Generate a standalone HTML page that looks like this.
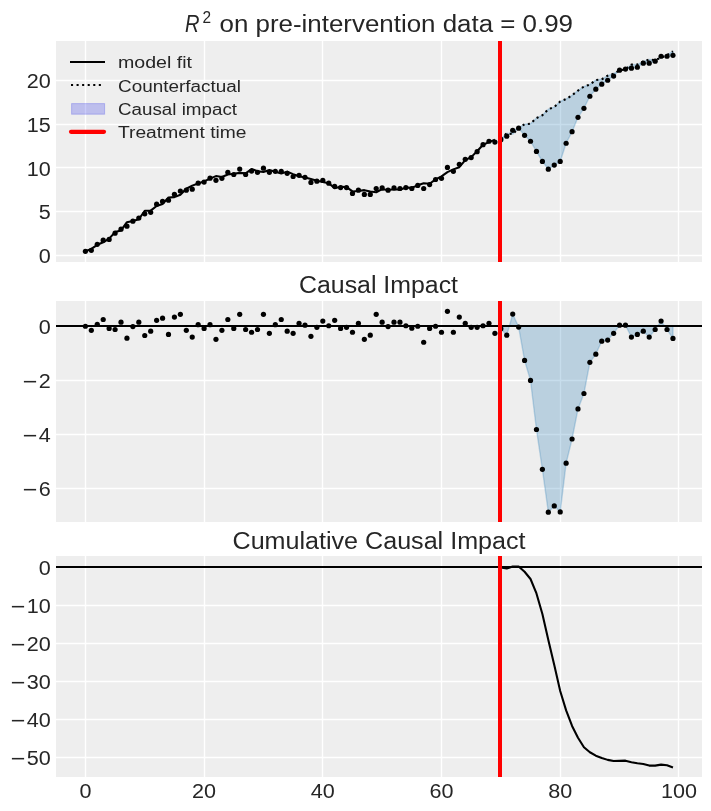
<!DOCTYPE html><html><head><meta charset="utf-8"><style>html,body{margin:0;padding:0;background:#fff;overflow:hidden}svg{display:block;will-change:transform}text{font-family:"Liberation Sans",sans-serif;fill:#262626}</style></head><body>
<svg width="711" height="811" viewBox="0 0 711 811">
<rect width="711" height="811" fill="#fff"/>
<defs>
<clipPath id="c0"><rect x="56" y="41" width="646" height="221"/></clipPath>
<clipPath id="c1"><rect x="56" y="301" width="646" height="221"/></clipPath>
<clipPath id="c2"><rect x="56" y="556" width="646" height="221"/></clipPath>
</defs>
<rect x="56" y="41" width="646" height="221" fill="#eeeeee"/>
<path d="M85.5 41V262M204.5 41V262M322.5 41V262M441.5 41V262M560.5 41V262M678.5 41V262M56 255.5H702M56 211.5H702M56 167.5H702M56 124.5H702M56 80.5H702" stroke="#fff" stroke-width="1.4" fill="none"/>
<g clip-path="url(#c0)">
<polygon points="500.85,138.79 506.78,133.2 512.72,134.16 518.65,127.87 524.59,124.2 530.52,123.68 536.46,118.09 542.39,115.2 548.33,109.18 554.26,107.08 560.2,101.49 566.13,99.04 572.07,95.29 578,90.57 583.94,86.55 589.88,84.54 595.81,80.09 601.74,79.3 607.68,75.72 613.61,73.71 619.55,70.39 625.48,69.34 631.42,64.63 637.35,64.54 643.29,61.48 649.22,59.56 655.16,60.09 661.09,57.81 667.03,55.11 672.96,51.26 672.96,55.28 667.03,56.24 661.09,56.24 655.16,61.22 649.22,63.14 643.29,63.14 637.35,67.25 631.42,68.21 625.48,69.08 619.55,70.13 613.61,76.07 607.68,80.26 601.74,84.19 595.81,89.17 589.88,96.25 583.94,108.3 578,117.3 572.07,131.71 566.13,143.24 560.2,161.41 554.26,165.08 548.33,169.19 542.39,161.41 536.46,151.45 530.52,141.23 524.59,135.29 518.65,128.22 512.72,130.31 506.78,136.17 500.85,139.66" fill="#1f77b4" fill-opacity="0.25" stroke="#1f77b4" stroke-opacity="0.25" stroke-width="1.4" stroke-linejoin="round"/>
<polyline points="85.4,251.21 91.34,248.94 97.27,244.83 103.21,242.3 109.14,238.63 115.08,232.08 121.01,230.42 126.94,222.21 132.88,220.98 138.81,219.24 144.75,210.76 150.69,210.68 156.62,206.05 162.56,203.95 168.49,197.49 174.43,197.14 180.36,194.78 186.3,188.75 192.23,185.61 198.16,183.6 204.1,181.33 210.03,178.62 215.97,176.09 221.91,176.96 227.84,174.43 233.78,173.73 239.71,172.85 245.64,173.38 251.58,169.1 257.51,171.19 263.45,171.98 269.38,169.97 275.32,171.81 281.25,173.47 287.19,171.63 293.12,174.16 299.06,176.17 305,177.57 310.93,179.06 316.87,180.72 322.8,181.94 328.74,183.25 334.67,188.14 340.61,186.74 346.54,187.09 352.48,191.46 358.41,191.02 364.35,190.15 370.28,191.46 376.22,192.25 382.15,189.19 388.09,189.97 394.02,189.19 399.96,189.71 405.89,187.62 411.82,187.79 417.76,185.35 423.69,183.25 429.63,183.77 435.56,179.41 441.5,176.35 447.43,172.16 453.37,169.36 459.3,167.18 465.24,160.19 471.17,157.13 477.11,151.19 483.04,144.73 488.98,142.11 494.91,139.75" fill="none" stroke="#000" stroke-width="2.08" stroke-linejoin="round" stroke-linecap="butt"/>
<polyline points="500.85,138.79 506.78,133.2 512.72,134.16 518.65,127.87 524.59,124.2 530.52,123.68 536.46,118.09 542.39,115.2 548.33,109.18 554.26,107.08 560.2,101.49 566.13,99.04 572.07,95.29 578,90.57 583.94,86.55 589.88,84.54 595.81,80.09 601.74,79.3 607.68,75.72 613.61,73.71 619.55,70.39 625.48,69.34 631.42,64.63 637.35,64.54 643.29,61.48 649.22,59.56 655.16,60.09 661.09,57.81 667.03,55.11 672.96,51.26" fill="none" stroke="#000" stroke-width="2.08" stroke-dasharray="2.08 3.43" stroke-linejoin="round"/>
<g fill="#000"><circle cx="85.4" cy="251.29" r="2.6"/><circle cx="91.34" cy="250.33" r="2.6"/><circle cx="97.27" cy="244.31" r="2.6"/><circle cx="103.21" cy="240.2" r="2.6"/><circle cx="109.14" cy="239.41" r="2.6"/><circle cx="115.08" cy="233.21" r="2.6"/><circle cx="121.01" cy="229.19" r="2.6"/><circle cx="126.94" cy="226.14" r="2.6"/><circle cx="132.88" cy="221.16" r="2.6"/><circle cx="138.81" cy="218.01" r="2.6"/><circle cx="144.75" cy="213.82" r="2.6"/><circle cx="150.69" cy="212.34" r="2.6"/><circle cx="156.62" cy="204.21" r="2.6"/><circle cx="162.56" cy="201.42" r="2.6"/><circle cx="168.49" cy="200.19" r="2.6"/><circle cx="174.43" cy="194.25" r="2.6"/><circle cx="180.36" cy="191.02" r="2.6"/><circle cx="186.3" cy="190.15" r="2.6"/><circle cx="192.23" cy="189.19" r="2.6"/><circle cx="198.16" cy="183.16" r="2.6"/><circle cx="204.1" cy="182.11" r="2.6"/><circle cx="210.03" cy="178.18" r="2.6"/><circle cx="215.97" cy="180.37" r="2.6"/><circle cx="221.91" cy="178.36" r="2.6"/><circle cx="227.84" cy="172.33" r="2.6"/><circle cx="233.78" cy="174.51" r="2.6"/><circle cx="239.71" cy="169.1" r="2.6"/><circle cx="245.64" cy="174.51" r="2.6"/><circle cx="251.58" cy="171.11" r="2.6"/><circle cx="257.51" cy="172.33" r="2.6"/><circle cx="263.45" cy="168.22" r="2.6"/><circle cx="269.38" cy="172.33" r="2.6"/><circle cx="275.32" cy="171.37" r="2.6"/><circle cx="281.25" cy="171.37" r="2.6"/><circle cx="287.19" cy="173.29" r="2.6"/><circle cx="293.12" cy="176.52" r="2.6"/><circle cx="299.06" cy="175.3" r="2.6"/><circle cx="305" cy="177.31" r="2.6"/><circle cx="310.93" cy="182.38" r="2.6"/><circle cx="316.87" cy="181.15" r="2.6"/><circle cx="322.8" cy="180.37" r="2.6"/><circle cx="328.74" cy="183.16" r="2.6"/><circle cx="334.67" cy="186.31" r="2.6"/><circle cx="340.61" cy="187.53" r="2.6"/><circle cx="346.54" cy="187.53" r="2.6"/><circle cx="352.48" cy="193.47" r="2.6"/><circle cx="358.41" cy="190.15" r="2.6"/><circle cx="364.35" cy="194.43" r="2.6"/><circle cx="370.28" cy="194.43" r="2.6"/><circle cx="376.22" cy="188.49" r="2.6"/><circle cx="382.15" cy="187.97" r="2.6"/><circle cx="388.09" cy="190.15" r="2.6"/><circle cx="394.02" cy="187.97" r="2.6"/><circle cx="399.96" cy="188.49" r="2.6"/><circle cx="405.89" cy="187.53" r="2.6"/><circle cx="411.82" cy="188.49" r="2.6"/><circle cx="417.76" cy="185.43" r="2.6"/><circle cx="423.69" cy="188.49" r="2.6"/><circle cx="429.63" cy="184.56" r="2.6"/><circle cx="435.56" cy="179.49" r="2.6"/><circle cx="441.5" cy="178.36" r="2.6"/><circle cx="447.43" cy="167.44" r="2.6"/><circle cx="453.37" cy="171.37" r="2.6"/><circle cx="459.3" cy="164.29" r="2.6"/><circle cx="465.24" cy="159.31" r="2.6"/><circle cx="471.17" cy="157.57" r="2.6"/><circle cx="477.11" cy="151.63" r="2.6"/><circle cx="483.04" cy="144.64" r="2.6"/><circle cx="488.98" cy="141.23" r="2.6"/><circle cx="494.91" cy="142.11" r="2.6"/><circle cx="500.85" cy="139.66" r="2.6"/><circle cx="506.78" cy="136.17" r="2.6"/><circle cx="512.72" cy="130.31" r="2.6"/><circle cx="518.65" cy="128.22" r="2.6"/><circle cx="524.59" cy="135.29" r="2.6"/><circle cx="530.52" cy="141.23" r="2.6"/><circle cx="536.46" cy="151.45" r="2.6"/><circle cx="542.39" cy="161.41" r="2.6"/><circle cx="548.33" cy="169.19" r="2.6"/><circle cx="554.26" cy="165.08" r="2.6"/><circle cx="560.2" cy="161.41" r="2.6"/><circle cx="566.13" cy="143.24" r="2.6"/><circle cx="572.07" cy="131.71" r="2.6"/><circle cx="578" cy="117.3" r="2.6"/><circle cx="583.94" cy="108.3" r="2.6"/><circle cx="589.88" cy="96.25" r="2.6"/><circle cx="595.81" cy="89.17" r="2.6"/><circle cx="601.74" cy="84.19" r="2.6"/><circle cx="607.68" cy="80.26" r="2.6"/><circle cx="613.61" cy="76.07" r="2.6"/><circle cx="619.55" cy="70.13" r="2.6"/><circle cx="625.48" cy="69.08" r="2.6"/><circle cx="631.42" cy="68.21" r="2.6"/><circle cx="637.35" cy="67.25" r="2.6"/><circle cx="643.29" cy="63.14" r="2.6"/><circle cx="649.22" cy="63.14" r="2.6"/><circle cx="655.16" cy="61.22" r="2.6"/><circle cx="661.09" cy="56.24" r="2.6"/><circle cx="667.03" cy="56.24" r="2.6"/><circle cx="672.96" cy="55.28" r="2.6"/></g>
<rect x="498" y="41" width="4" height="221" fill="#ff0000"/>
</g>
<rect x="56" y="301" width="646" height="221" fill="#eeeeee"/>
<path d="M85.5 301V522M204.5 301V522M322.5 301V522M441.5 301V522M560.5 301V522M678.5 301V522M56 326.5H702M56 380.5H702M56 434.5H702M56 488.5H702" stroke="#fff" stroke-width="1.4" fill="none"/>
<g clip-path="url(#c1)">
<polygon points="500.85,326 506.78,326 512.72,326 518.65,326 524.59,326 530.52,326 536.46,326 542.39,326 548.33,326 554.26,326 560.2,326 566.13,326 572.07,326 578,326 583.94,326 589.88,326 595.81,326 601.74,326 607.68,326 613.61,326 619.55,326 625.48,326 631.42,326 637.35,326 643.29,326 649.22,326 655.16,326 661.09,326 667.03,326 672.96,326 672.96,338.47 667.03,329.52 661.09,321.12 655.16,329.52 649.22,337.11 643.29,331.15 637.35,334.4 631.42,337.11 625.48,325.19 619.55,325.19 613.61,333.32 607.68,340.09 601.74,341.18 595.81,354.18 589.88,362.31 583.94,393.48 578,408.93 572.07,439.01 566.13,463.13 560.2,511.91 554.26,505.94 548.33,512.18 542.39,469.36 536.46,429.52 530.52,380.47 524.59,360.42 518.65,327.08 512.72,314.08 506.78,335.21 500.85,328.71" fill="#1f77b4" fill-opacity="0.25" stroke="#1f77b4" stroke-opacity="0.25" stroke-width="1.4" stroke-linejoin="round"/>
<g fill="#000"><circle cx="85.4" cy="326.27" r="2.6"/><circle cx="91.34" cy="330.34" r="2.6"/><circle cx="97.27" cy="324.37" r="2.6"/><circle cx="103.21" cy="319.5" r="2.6"/><circle cx="109.14" cy="328.44" r="2.6"/><circle cx="115.08" cy="329.52" r="2.6"/><circle cx="121.01" cy="322.21" r="2.6"/><circle cx="126.94" cy="338.19" r="2.6"/><circle cx="132.88" cy="326.54" r="2.6"/><circle cx="138.81" cy="322.21" r="2.6"/><circle cx="144.75" cy="335.49" r="2.6"/><circle cx="150.69" cy="331.15" r="2.6"/><circle cx="156.62" cy="320.31" r="2.6"/><circle cx="162.56" cy="318.14" r="2.6"/><circle cx="168.49" cy="334.4" r="2.6"/><circle cx="174.43" cy="317.06" r="2.6"/><circle cx="180.36" cy="314.35" r="2.6"/><circle cx="186.3" cy="330.34" r="2.6"/><circle cx="192.23" cy="337.11" r="2.6"/><circle cx="198.16" cy="324.64" r="2.6"/><circle cx="204.1" cy="328.44" r="2.6"/><circle cx="210.03" cy="324.64" r="2.6"/><circle cx="215.97" cy="339.28" r="2.6"/><circle cx="221.91" cy="330.34" r="2.6"/><circle cx="227.84" cy="319.5" r="2.6"/><circle cx="233.78" cy="328.44" r="2.6"/><circle cx="239.71" cy="314.35" r="2.6"/><circle cx="245.64" cy="329.52" r="2.6"/><circle cx="251.58" cy="332.23" r="2.6"/><circle cx="257.51" cy="329.52" r="2.6"/><circle cx="263.45" cy="314.35" r="2.6"/><circle cx="269.38" cy="333.32" r="2.6"/><circle cx="275.32" cy="324.64" r="2.6"/><circle cx="281.25" cy="319.5" r="2.6"/><circle cx="287.19" cy="331.15" r="2.6"/><circle cx="293.12" cy="333.32" r="2.6"/><circle cx="299.06" cy="323.29" r="2.6"/><circle cx="305" cy="325.19" r="2.6"/><circle cx="310.93" cy="336.3" r="2.6"/><circle cx="316.87" cy="327.36" r="2.6"/><circle cx="322.8" cy="321.12" r="2.6"/><circle cx="328.74" cy="325.73" r="2.6"/><circle cx="334.67" cy="320.31" r="2.6"/><circle cx="340.61" cy="328.44" r="2.6"/><circle cx="346.54" cy="327.36" r="2.6"/><circle cx="352.48" cy="332.23" r="2.6"/><circle cx="358.41" cy="323.29" r="2.6"/><circle cx="364.35" cy="339.28" r="2.6"/><circle cx="370.28" cy="335.21" r="2.6"/><circle cx="376.22" cy="314.35" r="2.6"/><circle cx="382.15" cy="322.21" r="2.6"/><circle cx="388.09" cy="326.54" r="2.6"/><circle cx="394.02" cy="322.21" r="2.6"/><circle cx="399.96" cy="322.21" r="2.6"/><circle cx="405.89" cy="325.73" r="2.6"/><circle cx="411.82" cy="328.17" r="2.6"/><circle cx="417.76" cy="326.27" r="2.6"/><circle cx="423.69" cy="342.26" r="2.6"/><circle cx="429.63" cy="328.44" r="2.6"/><circle cx="435.56" cy="326.27" r="2.6"/><circle cx="441.5" cy="332.23" r="2.6"/><circle cx="447.43" cy="311.37" r="2.6"/><circle cx="453.37" cy="332.23" r="2.6"/><circle cx="459.3" cy="317.06" r="2.6"/><circle cx="465.24" cy="323.29" r="2.6"/><circle cx="471.17" cy="327.36" r="2.6"/><circle cx="477.11" cy="327.36" r="2.6"/><circle cx="483.04" cy="325.73" r="2.6"/><circle cx="488.98" cy="323.29" r="2.6"/><circle cx="494.91" cy="333.32" r="2.6"/><circle cx="500.85" cy="328.71" r="2.6"/><circle cx="506.78" cy="335.21" r="2.6"/><circle cx="512.72" cy="314.08" r="2.6"/><circle cx="518.65" cy="327.08" r="2.6"/><circle cx="524.59" cy="360.42" r="2.6"/><circle cx="530.52" cy="380.47" r="2.6"/><circle cx="536.46" cy="429.52" r="2.6"/><circle cx="542.39" cy="469.36" r="2.6"/><circle cx="548.33" cy="512.18" r="2.6"/><circle cx="554.26" cy="505.94" r="2.6"/><circle cx="560.2" cy="511.91" r="2.6"/><circle cx="566.13" cy="463.13" r="2.6"/><circle cx="572.07" cy="439.01" r="2.6"/><circle cx="578" cy="408.93" r="2.6"/><circle cx="583.94" cy="393.48" r="2.6"/><circle cx="589.88" cy="362.31" r="2.6"/><circle cx="595.81" cy="354.18" r="2.6"/><circle cx="601.74" cy="341.18" r="2.6"/><circle cx="607.68" cy="340.09" r="2.6"/><circle cx="613.61" cy="333.32" r="2.6"/><circle cx="619.55" cy="325.19" r="2.6"/><circle cx="625.48" cy="325.19" r="2.6"/><circle cx="631.42" cy="337.11" r="2.6"/><circle cx="637.35" cy="334.4" r="2.6"/><circle cx="643.29" cy="331.15" r="2.6"/><circle cx="649.22" cy="337.11" r="2.6"/><circle cx="655.16" cy="329.52" r="2.6"/><circle cx="661.09" cy="321.12" r="2.6"/><circle cx="667.03" cy="329.52" r="2.6"/><circle cx="672.96" cy="338.47" r="2.6"/></g>
<path d="M56 326H702" stroke="#000" stroke-width="2.08"/>
<rect x="498" y="301" width="4" height="221" fill="#ff0000"/>
</g>
<rect x="56" y="556" width="646" height="221" fill="#eeeeee"/>
<path d="M85.5 556V777M204.5 556V777M322.5 556V777M441.5 556V777M560.5 556V777M678.5 556V777M56 567.5H702M56 605.5H702M56 643.5H702M56 681.5H702M56 719.5H702M56 757.5H702" stroke="#fff" stroke-width="1.4" fill="none"/>
<g clip-path="url(#c2)">
<path d="M56 567H702" stroke="#000" stroke-width="2.08"/>
<polyline points="500.85,567.39 506.78,568.53 512.72,566.44 518.65,566.44 524.59,571.77 530.52,579 536.46,593.48 542.39,614.04 548.33,639.93 554.26,665.07 560.2,690.96 566.13,710.38 572.07,725.99 578,737.8 583.94,747.32 589.88,752.27 595.81,755.7 601.74,757.98 607.68,759.88 613.61,761.03 619.55,760.84 625.48,760.65 631.42,762.17 637.35,763.31 643.29,764.07 649.22,765.6 655.16,765.6 661.09,764.64 667.03,765.22 672.96,767.5" fill="none" stroke="#000" stroke-width="2.08" stroke-linejoin="round"/>
<rect x="498" y="556" width="4" height="221" fill="#ff0000"/>
</g>
<text x="50.7" y="263" font-size="19.6" text-anchor="end" textLength="12" lengthAdjust="spacingAndGlyphs">0</text>
<text x="50.7" y="219.25" font-size="19.6" text-anchor="end" textLength="12" lengthAdjust="spacingAndGlyphs">5</text>
<text x="50.7" y="175.5" font-size="19.6" text-anchor="end" textLength="24" lengthAdjust="spacingAndGlyphs">10</text>
<text x="50.7" y="131.75" font-size="19.6" text-anchor="end" textLength="24" lengthAdjust="spacingAndGlyphs">15</text>
<text x="50.7" y="88" font-size="19.6" text-anchor="end" textLength="24" lengthAdjust="spacingAndGlyphs">20</text>
<text x="50.7" y="333.8" font-size="19.6" text-anchor="end" textLength="12" lengthAdjust="spacingAndGlyphs">0</text>
<text x="50.7" y="387.8" font-size="19.6" text-anchor="end" textLength="12" lengthAdjust="spacingAndGlyphs">2</text>
<rect x="23.9" y="380.9" width="12.2" height="1.55" fill="#262626"/>
<text x="50.7" y="441.8" font-size="19.6" text-anchor="end" textLength="12" lengthAdjust="spacingAndGlyphs">4</text>
<rect x="23.9" y="434.9" width="12.2" height="1.55" fill="#262626"/>
<text x="50.7" y="495.8" font-size="19.6" text-anchor="end" textLength="12" lengthAdjust="spacingAndGlyphs">6</text>
<rect x="23.9" y="488.9" width="12.2" height="1.55" fill="#262626"/>
<text x="50.7" y="574.8" font-size="19.6" text-anchor="end" textLength="12" lengthAdjust="spacingAndGlyphs">0</text>
<text x="50.7" y="612.8" font-size="19.6" text-anchor="end" textLength="24" lengthAdjust="spacingAndGlyphs">10</text>
<rect x="11.9" y="605.9" width="12.2" height="1.55" fill="#262626"/>
<text x="50.7" y="650.8" font-size="19.6" text-anchor="end" textLength="24" lengthAdjust="spacingAndGlyphs">20</text>
<rect x="11.9" y="643.9" width="12.2" height="1.55" fill="#262626"/>
<text x="50.7" y="688.8" font-size="19.6" text-anchor="end" textLength="24" lengthAdjust="spacingAndGlyphs">30</text>
<rect x="11.9" y="681.9" width="12.2" height="1.55" fill="#262626"/>
<text x="50.7" y="726.8" font-size="19.6" text-anchor="end" textLength="24" lengthAdjust="spacingAndGlyphs">40</text>
<rect x="11.9" y="719.9" width="12.2" height="1.55" fill="#262626"/>
<text x="50.7" y="764.8" font-size="19.6" text-anchor="end" textLength="24" lengthAdjust="spacingAndGlyphs">50</text>
<rect x="11.9" y="757.9" width="12.2" height="1.55" fill="#262626"/>
<text x="85.4" y="798" font-size="19.6" text-anchor="middle" textLength="12" lengthAdjust="spacingAndGlyphs">0</text>
<text x="204.1" y="798" font-size="19.6" text-anchor="middle" textLength="24" lengthAdjust="spacingAndGlyphs">20</text>
<text x="322.8" y="798" font-size="19.6" text-anchor="middle" textLength="24" lengthAdjust="spacingAndGlyphs">40</text>
<text x="441.5" y="798" font-size="19.6" text-anchor="middle" textLength="24" lengthAdjust="spacingAndGlyphs">60</text>
<text x="560.2" y="798" font-size="19.6" text-anchor="middle" textLength="24" lengthAdjust="spacingAndGlyphs">80</text>
<text x="678.9" y="798" font-size="19.6" text-anchor="middle" textLength="36" lengthAdjust="spacingAndGlyphs">100</text>
<text x="185" y="32" font-size="23.5" font-style="italic" textLength="14.5" lengthAdjust="spacingAndGlyphs">R</text>
<text x="202.5" y="22.8" font-size="16.45" textLength="8.6" lengthAdjust="spacingAndGlyphs">2</text>
<text x="219.5" y="32" font-size="23.5" textLength="353.5" lengthAdjust="spacingAndGlyphs">on pre-intervention data = 0.99</text>
<text x="378.5" y="293" font-size="23.5" text-anchor="middle" textLength="159" lengthAdjust="spacingAndGlyphs">Causal Impact</text>
<text x="379" y="549" font-size="23.5" text-anchor="middle" textLength="293" lengthAdjust="spacingAndGlyphs">Cumulative Causal Impact</text>
<path d="M70 62H105" stroke="#000" stroke-width="2.08"/>
<path d="M71 85H104" stroke="#000" stroke-width="2.08" stroke-dasharray="2.08 3.48"/>
<rect x="71.6" y="103.6" width="33" height="10.6" fill="#2a2eec" fill-opacity="0.25" stroke="#2a2eec" stroke-opacity="0.25" stroke-width="1"/>
<path d="M71 131.8H104" stroke="#ff0000" stroke-width="4.17" stroke-linecap="round"/>
<text x="118" y="68" font-size="15.6" textLength="74" lengthAdjust="spacingAndGlyphs">model fit</text>
<text x="118" y="91.7" font-size="15.6" textLength="123" lengthAdjust="spacingAndGlyphs">Counterfactual</text>
<text x="118" y="114.6" font-size="15.6" textLength="119" lengthAdjust="spacingAndGlyphs">Causal impact</text>
<text x="118" y="137.6" font-size="15.6" textLength="128.5" lengthAdjust="spacingAndGlyphs">Treatment time</text>
</svg></body></html>
